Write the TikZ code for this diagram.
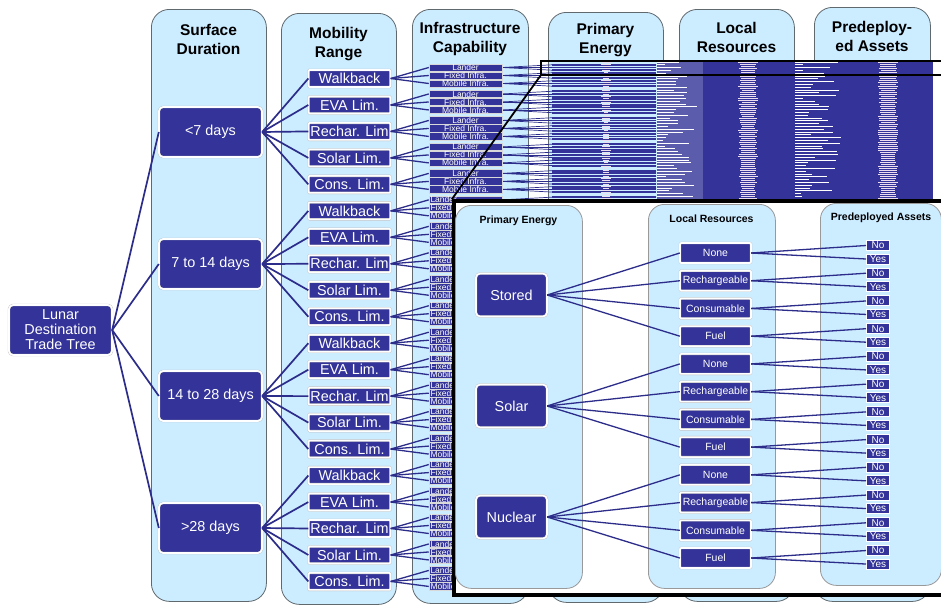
\documentclass[tikz,border=0pt]{standalone}
\usepackage{fontspec}
\setmainfont{Liberation Sans}
\usepackage{tikz}
\usetikzlibrary{arrows, shapes, positioning}

\definecolor{dkblue}{RGB}{51,51,153}
\definecolor{lnblue}{RGB}{44,44,138}
\definecolor{colblue}{RGB}{204,236,255}
\definecolor{colgray}{RGB}{95,105,110}
\definecolor{speck}{RGB}{236,222,238}

\tikzset{
  colbox/.style={draw=colgray, fill=colblue, line width=0.8pt, rounded corners=18pt, anchor=north west, inner sep=0pt},
  hdtext/.style={font=\bfseries\fontsize{15.5}{19}\selectfont, align=center},
  ihdtext/.style={font=\bfseries\fontsize{10.5}{12}\selectfont},
  nbox/.style={fill=dkblue, draw=black!25, double=white, double distance=1.6pt, line width=0.35pt, text=white, align=center, inner sep=0pt},
  durbox/.style={nbox, rounded corners=4pt, minimum width=103pt, minimum height=50pt, font=\fontsize{14.4}{15}\selectfont},
  mobbox/.style={nbox, rounded corners=1pt, minimum width=82pt, minimum height=17pt, font=\fontsize{14.4}{15}\selectfont},
  infbox/.style={fill=dkblue, draw=white!70!gray, line width=0.5pt, text=white, minimum width=73pt, minimum height=7.4pt, inner sep=0pt, font=\fontsize{8.5}{8.5}\selectfont},
  infhid/.style={infbox, text width=70pt, align=left},
  enbox/.style={nbox, rounded corners=4pt, minimum width=71pt, minimum height=43pt, font=\fontsize{14.4}{15}\selectfont},
  resbox/.style={nbox, rounded corners=1pt, minimum width=71pt, minimum height=20pt, font=\fontsize{10.5}{12}\selectfont},
  prebox/.style={fill=dkblue, draw=white, line width=1pt, text=white, minimum width=23pt, minimum height=10pt, inner sep=0pt, font=\fontsize{10}{10}\selectfont},
  trlink/.style={draw=lnblue, line width=1.7pt},
  ilink/.style={draw=lnblue, line width=1.3pt}
}

\begin{document}
\begin{tikzpicture}[x=1pt, y=-1pt]
  \useasboundingbox (0,0) rectangle (941,605);

  %colonnes
  \node[colbox, minimum width=115pt, minimum height=592pt] (colDur) at (151,9) {};
  \node[colbox, minimum width=115pt, minimum height=591pt] (colMob) at (281,13) {};
  \node[colbox, minimum width=116pt, minimum height=594pt] (colInf) at (412,9) {};
  \node[colbox, minimum width=115pt, minimum height=590pt] (colEn) at (548,12) {};
  \node[colbox, minimum width=115pt, minimum height=592pt] (colRes) at (679,9) {};
  \node[colbox, minimum width=116pt, minimum height=594pt] (colPre) at (814,7) {};

  \node[hdtext] (hDur) at (208.5,39) {Surface\\Duration};
  \node[hdtext] (hMob) at (338.5,44) {Mobility\\Range};
  \node[hdtext] (hInf) at (470,38.5) {Infrastructure\\Capability};
  \node[hdtext] (hEn) at (605.5,40) {Primary\\Energy};
  \node[hdtext] (hRes) at (736.5,37.5) {Local\\Resources};
  \node[hdtext] (hPre) at (872,36.5) {Predeploy-\\ed Assets};

  %arbre complet (illisible)
  \pgfmathsetseed{5}
  \begin{scope}
    \clip (500,55) rectangle (945,200);
    \fill[dkblue!80!white] (657,60) rectangle (703,200);
    \fill[dkblue] (703,60) rectangle (793,200);
    \fill[dkblue] (793,60) rectangle (845,200);
    \fill[dkblue] (845,60) rectangle (933,200);
    \foreach \m in {0,...,5}{
      \foreach \j in {0,1,2}{
        \foreach \k in {-1,0,1}{
          \pgfmathsetmacro{\ya}{67.5+26.47*\m+8*\j}
          \pgfmathsetmacro{\yb}{\ya+2.7*\k}
          \draw[lnblue, line width=0.7pt] (502,\ya) -- (552,\yb);
          \fill[dkblue] (552,\yb-0.9) rectangle (656,\yb+0.9);
        }
      }
    }
    \foreach \r in {0,...,48}{
      \pgfmathsetmacro{\yy}{62+2.8*\r}
      \pgfmathsetmacro{\la}{6+34*rnd}
      \pgfmathsetmacro{\lb}{6+40*rnd}
      \draw[white, line width=0.8pt] (657,\yy) -- ++(\la,0);
      \draw[white, line width=0.8pt] (795,\yy) -- ++(\lb,0);
    }
    \foreach \r in {0,...,70}{
      \pgfmathsetmacro{\yy}{60+2*\r}
      \pgfmathsetmacro{\wa}{4+6*rnd}
      \pgfmathsetmacro{\wb}{12+8*rnd}
      \pgfmathsetmacro{\wc}{13+8*rnd}
      \fill[speck] (606-\wa/2,\yy) rectangle ++(\wa,1.1);
      \fill[speck] (748-\wb/2,\yy) rectangle ++(\wb,1.1);
      \fill[speck] (888-\wc/2,\yy) rectangle ++(\wc,1.1);
    }
  \end{scope}

  %arbre
  \node[durbox] (lunar) at (60.5,330) {Lunar\\Destination\\Trade Tree};
  \node[durbox] (dur0) at (210.5,132) {<7 days};
  \node[durbox] (dur1) at (210.5,264) {7 to 14 days};
  \node[durbox] (dur2) at (210.5,396) {14 to 28 days};
  \node[durbox] (dur3) at (210.5,528) {>28 days};

  \foreach \d in {0,...,3}
    \draw[trlink] (lunar.east) -- (dur\d.west);

  \foreach \g in {0,...,3}{
    \foreach \lab [count=\k from 0] in {Walkback, EVA Lim., Rechar. Lim, Solar Lim., Cons. Lim.}{
      \pgfmathtruncatemacro{\m}{5*\g+\k}
      \node[mobbox] (mob\m) at (349.5,78.5+26.47*\m) {\lab};
      \draw[trlink] (dur\g.east) -- (mob\m.west);
    }
  }

  \foreach \m in {0,...,4}{
    \foreach \lab [count=\j from 0] in {Lander, Fixed Infra., Mobile Infra.}{
      \node[infbox] (inf\m-\j) at (465.5,67.5+26.47*\m+8*\j) {\lab};
      \draw[ilink] (mob\m.east) -- (inf\m-\j.west);
    }
  }
  %sous le zoom
  \foreach \m in {5,...,19}{
    \foreach \lab [count=\j from 0] in {Lander, Fixed Infra., Mobile Infra.}{
      \node[infhid] (inf\m-\j) at (465.5,67.5+26.47*\m+8*\j) {\lab};
      \draw[ilink] (mob\m.east) -- (inf\m-\j.west);
    }
  }

  %zoom
  \coordinate (zoomA) at (541,61);
  \coordinate (zoomB) at (541,75);
  \coordinate (zoomC) at (950,61);
  \coordinate (zoomD) at (950,75);
  \draw[black, line width=2.5pt] (zoomC) -- (zoomA) -- (zoomB) -- (zoomD);

  \node[draw=black, line width=3.5pt, fill=white, anchor=north west, inner sep=0pt,
        minimum width=500pt, minimum height=394pt] (inset) at (452,199) {};
  \draw[black, line width=1.8pt] (zoomB) -- (inset.north west);

  \node[colbox, draw=black!40, rounded corners=16pt, minimum width=127pt, minimum height=383pt] (icolEn) at (455,205) {};
  \node[colbox, draw=black!40, rounded corners=16pt, minimum width=127pt, minimum height=384pt] (icolRes) at (648,204) {};
  \node[colbox, draw=black!40, rounded corners=16pt, minimum width=121pt, minimum height=382pt] (icolPre) at (820,203) {};

  \node[ihdtext] (ihEn) at (518.5,221) {Primary Energy};
  \node[ihdtext] (ihRes) at (711.5,219) {Local Resources};
  \node[ihdtext] (ihPre) at (881,218) {Predeployed Assets};

  \node[enbox] (stored) at (511.5,295) {Stored};
  \node[enbox] (solar) at (511.5,406) {Solar};
  \node[enbox] (nuclear) at (511.5,517) {Nuclear};

  \foreach \e [count=\i from 0] in {stored, solar, nuclear}{
    \foreach \lab [count=\k from 0] in {None, Rechargeable, Consumable, Fuel}{
      \pgfmathtruncatemacro{\r}{4*\i+\k}
      \node[resbox] (res\r) at (715.5,253+27.73*\r) {\lab};
      \node[prebox] (no\r) at (878,245.5+27.73*\r) {No};
      \node[prebox] (yes\r) at (878,259+27.73*\r) {Yes};
      \draw[ilink] (\e.east) -- (res\r.west);
      \draw[ilink] (res\r.east) -- (no\r.west);
      \draw[ilink] (res\r.east) -- (yes\r.west);
    }
  }

\end{tikzpicture}
\end{document}
